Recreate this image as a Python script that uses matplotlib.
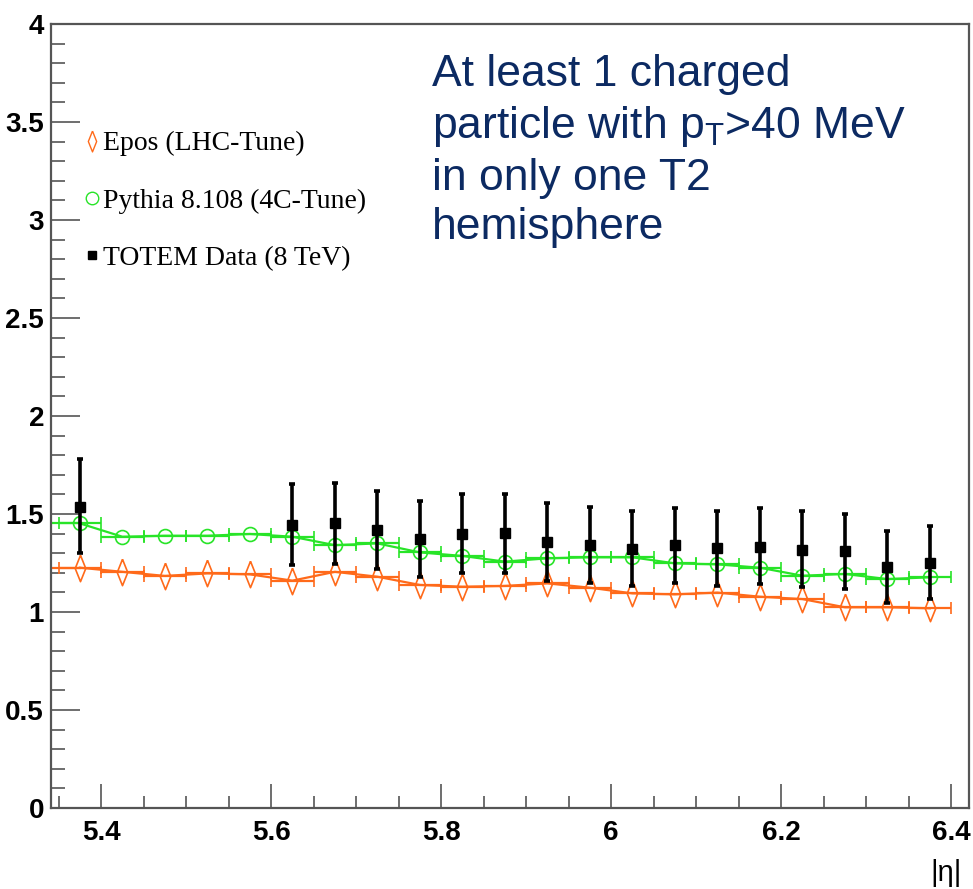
import matplotlib
matplotlib.use('Agg')
import matplotlib.pyplot as plt
from matplotlib.ticker import MultipleLocator
from matplotlib.lines import Line2D
from matplotlib import font_manager

# ---------------- data ----------------
eta = [5.375, 5.425, 5.475, 5.525, 5.575, 5.625, 5.675, 5.725, 5.775, 5.825, 5.875,
       5.925, 5.975, 6.025, 6.075, 6.125, 6.175, 6.225, 6.275, 6.325, 6.375]
epos = [1.226, 1.205, 1.184, 1.197, 1.192, 1.160, 1.205, 1.180, 1.138, 1.129, 1.133,
        1.146, 1.124, 1.095, 1.090, 1.099, 1.078, 1.066, 1.024, 1.024, 1.019]
pythia = [1.452, 1.384, 1.389, 1.389, 1.398, 1.384, 1.341, 1.350, 1.304, 1.286, 1.257,
          1.274, 1.279, 1.279, 1.248, 1.243, 1.226, 1.185, 1.194, 1.168, 1.177]
bin_half = 0.025

data_eta = [5.375, 5.625, 5.675, 5.725, 5.775, 5.825, 5.875, 5.925, 5.975, 6.025,
            6.075, 6.125, 6.175, 6.225, 6.275, 6.325, 6.375]
data_val = [1.537, 1.444, 1.452, 1.418, 1.372, 1.398, 1.405, 1.359, 1.342, 1.320,
            1.342, 1.325, 1.333, 1.316, 1.313, 1.231, 1.252]
data_up = [1.779, 1.653, 1.660, 1.619, 1.568, 1.602, 1.602, 1.558, 1.537, 1.517,
           1.532, 1.517, 1.532, 1.517, 1.500, 1.413, 1.440]
data_lo = [1.299, 1.238, 1.245, 1.218, 1.180, 1.201, 1.197, 1.160, 1.146, 1.133,
           1.146, 1.133, 1.143, 1.126, 1.116, 1.048, 1.064]

legend_labels = ["Epos (LHC-Tune)", "Pythia 8.108 (4C-Tune)", "TOTEM Data (8 TeV)"]
x_ticks = [5.4, 5.6, 5.8, 6.0, 6.2, 6.4]
x_tick_labels = ["5.4", "5.6", "5.8", "6", "6.2", "6.4"]
y_ticks = [0, 0.5, 1, 1.5, 2, 2.5, 3, 3.5, 4]
y_tick_labels = ["0", "0.5", "1", "1.5", "2", "2.5", "3", "3.5", "4"]
annotation = "At least 1 charged\nparticle with p$_{\\mathregular{T}}$>40 MeV\nin only one T2\nhemisphere"

# ---------------- style ----------------
avail = {f.name for f in font_manager.fontManager.ttflist}
narrow = 'Liberation Sans Narrow' if 'Liberation Sans Narrow' in avail else 'Liberation Sans'
ORANGE = '#FF6A1A'
GREEN = '#28E428'
NAVY = '#0C2A62'
SPINE = '#555555'

diamond = [(0, 1), (0.4, 0), (0, -1), (-0.4, 0), (0, 1)]

fig = plt.figure(figsize=(9.73, 8.89), dpi=100)
ax = fig.add_axes([51/973, 1 - 808/889, (969 - 51)/973, (808 - 24)/889])
ax.set_xlim(5.341, 6.421)
ax.set_ylim(0, 4)

# MC histograms: horizontal bin bars with small caps + connecting line
for vals, col, mk, ms in [(epos, ORANGE, diamond, 19), (pythia, GREEN, 'o', 10)]:
    ax.errorbar(eta, vals, xerr=bin_half, fmt='none', ecolor=col, elinewidth=1.6,
                capsize=4, capthick=1.2, zorder=2)
    ax.plot(eta, vals, color=col, lw=1.6, zorder=2)
    ax.plot([ax.get_xlim()[0], eta[0]], [vals[0], vals[0]], color=col, lw=1.6, zorder=2)
    ax.plot(eta, vals, linestyle='none', marker=mk, markersize=ms,
            markerfacecolor='none', markeredgecolor=col, markeredgewidth=1.2, zorder=3)

# data
yerr = [[v - l for v, l in zip(data_val, data_lo)], [u - v for u, v in zip(data_up, data_val)]]
ax.errorbar(data_eta, data_val, yerr=yerr, fmt='s', color='black', markersize=7.5,
            elinewidth=2.6, capsize=2.5, capthick=2.6, zorder=4)

# axes styling
for s in ax.spines.values():
    s.set_color(SPINE)
    s.set_linewidth(1.6)
ax.set_xticks(x_ticks)
ax.set_xticklabels(x_tick_labels)
ax.set_yticks(y_ticks)
ax.set_yticklabels(y_tick_labels)
ax.xaxis.set_minor_locator(MultipleLocator(0.05))
ax.yaxis.set_minor_locator(MultipleLocator(0.1))
ax.tick_params(axis='x', which='major', direction='in', length=17, width=1.2, color=SPINE, pad=9)
ax.tick_params(axis='x', which='minor', direction='in', length=8.5, width=1.2, color=SPINE)
ax.tick_params(axis='y', which='major', direction='in', length=21, width=1.2, color=SPINE, pad=5)
ax.tick_params(axis='y', which='minor', direction='in', length=10, width=1.2, color=SPINE)
for lab in ax.get_xticklabels() + ax.get_yticklabels():
    lab.set_fontfamily(narrow)
    lab.set_fontweight('bold')
    lab.set_fontsize(20)

# legend
handles = [
    Line2D([], [], linestyle='none', marker=diamond, markersize=15, markerfacecolor='none',
           markeredgecolor=ORANGE, markeredgewidth=1.0),
    Line2D([], [], linestyle='none', marker='o', markersize=9, markerfacecolor='none',
           markeredgecolor=GREEN, markeredgewidth=1.0),
    Line2D([], [], linestyle='none', marker='s', markersize=5.5, color='black'),
]
leg = ax.legend(handles, legend_labels, loc='upper left', bbox_to_anchor=(85/973, 1 - 131/889),
                bbox_transform=fig.transFigure, frameon=False, handlelength=0.5,
                handletextpad=0.15, labelspacing=1.15, borderpad=0, borderaxespad=0,
                prop={'family': 'Liberation Serif', 'size': 20})

fig.text(432/973, 1 - 54/889, annotation, ha='left', va='top', color=NAVY,
         fontsize=32, family='Liberation Sans', linespacing=1.27)

fig.text(962/973, 1 - 887/889, '|η|', ha='right', va='bottom', fontsize=21,
         family=narrow, color='black')

fig.savefig('out.png', dpi=100)
